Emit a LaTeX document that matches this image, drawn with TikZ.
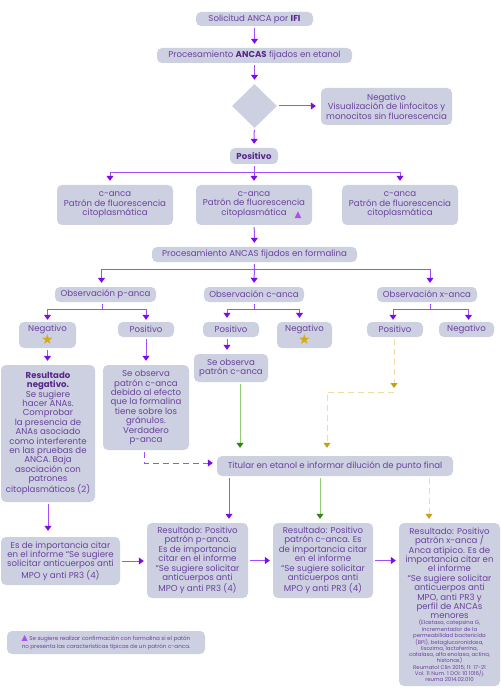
\documentclass[tikz,border=0pt]{standalone}
\usepackage{fontspec}
\setmainfont{Poppins}
\newfontfamily\sym{DejaVu Sans}
\usetikzlibrary{arrows.meta,shapes.geometric}
\definecolor{boxc}{RGB}{205,208,224}
\definecolor{txtc}{RGB}{106,66,160}
\definecolor{boldc}{RGB}{88,40,140}
\definecolor{lnp}{RGB}{158,78,255}
\definecolor{tipp}{RGB}{125,10,235}
\definecolor{lng}{RGB}{150,205,120}
\definecolor{tipg}{RGB}{50,130,20}
\definecolor{lny}{RGB}{238,220,160}
\definecolor{tipy}{RGB}{200,160,20}
\definecolor{starc}{RGB}{215,170,20}
\definecolor{trc}{RGB}{170,80,240}
\newcommand{\bx}[1]{{\bfseries\color{boldc}#1}}
\newcommand{\stargl}{\raisebox{-1pt}{\sym\color{starc}\fontsize{14}{14}\selectfont ★}}
\begin{document}
\begin{tikzpicture}[x=1pt,y=-1pt,
  box/.style={rectangle, rounded corners=5pt, fill=boxc, text=txtc, align=center, inner sep=0pt, font=\fontsize{8.6}{9.4}\selectfont},
  arr/.style={draw=lnp, line width=1pt, shorten <=2pt, shorten >=4pt, -{Triangle[width=7pt,length=5pt,color=tipp]}},
  pdash/.style={arr, dash pattern=on 6pt off 4pt},
  garr/.style={draw=lng, line width=1pt, shorten <=2pt, shorten >=4pt, -{Triangle[width=7pt,length=5pt,color=tipg]}},
  ydash/.style={draw=lny, line width=1pt, dash pattern=on 6pt off 4pt, shorten <=2pt, shorten >=4pt, -{Triangle[width=7pt,length=5pt,color=tipy]}}
]
\fill[white] (0,0) rectangle (500,692);
\useasboundingbox (0,0) rectangle (500,692);

\node[box, minimum width=117pt, minimum height=14pt] (sol) at (254.5,19) {Solicitud ANCA por \bx{IFI}};
\node[box, minimum width=195pt, minimum height=15pt] (proc) at (254.5,55.5) {Procesamiento \bx{ANCAS} fijados en etanol};
\node[diamond, fill=boxc, minimum width=45pt, minimum height=44pt, inner sep=0pt] (dia) at (254.5,106) {};
\node[box, minimum width=131pt, minimum height=37pt] (neg) at (386.5,106.5) {Negativo\\Visualización de linfocitos y\\monocitos sin fluorescencia};
\node[box, minimum width=48pt, minimum height=16pt] (pos) at (254,156) {\bx{Positivo}};

\node[box, minimum width=116pt, minimum height=40pt] (c1) at (115,205) {c-anca\\Patrón de fluorescencia\\citoplasmática};
\node[box, minimum width=116pt, minimum height=40pt] (c2) at (254,205) {c-anca\\Patrón de fluorescencia\\citoplasmática\rlap{\hspace{8pt}\raisebox{-2pt}{\sym\color{trc}\fontsize{9}{9}\selectfont ▲}}};
\node[box, minimum width=116pt, minimum height=40pt] (c3) at (400,205) {c-anca\\Patrón de fluorescencia\\citoplasmática};

\node[box, minimum width=205pt, minimum height=15pt] (form) at (254.5,254.5) {Procesamiento ANCAS fijados en formalina};

\node[box, minimum width=101pt, minimum height=15pt] (obsp) at (105.5,294.5) {Observación p-anca};
\node[box, minimum width=100pt, minimum height=15pt] (obsc) at (254,294.5) {Observación c-anca};
\node[box, minimum width=100pt, minimum height=15pt] (obsx) at (427,294.5) {Observación x-anca};

\node[box, minimum width=57pt, minimum height=26pt] (negp) at (47.5,335) {Negativo\\\stargl};
\node[box, minimum width=56pt, minimum height=15pt] (posp) at (146,329.5) {Positivo};
\node[box, minimum width=56pt, minimum height=15pt] (posc) at (231,329.5) {Positivo};
\node[box, minimum width=55pt, minimum height=26pt] (negc) at (304.5,335) {Negativo\\\stargl};
\node[box, minimum width=56pt, minimum height=15pt] (posx) at (395,329.5) {Positivo};
\node[box, minimum width=55pt, minimum height=15pt] (negx) at (466.5,329.5) {Negativo};

\node[box, minimum width=94pt, minimum height=137pt] (resneg) at (48,433.5) {\bx{Resultado}\\\bx{negativo.}\\Se sugiere\\hacer ANAs.\\Comprobar\\la presencia de\\ANAs asociado\\como interferente\\en las pruebas de\\ANCA. Baja\\asociación con\\patrones\\citoplasmáticos (2)};
\node[box, minimum width=86pt, minimum height=85pt] (seobs) at (146,407.5) {Se observa\\patrón c-anca\\debido al efecto\\que la formalina\\tiene sobre los\\gránulos.\\Verdadero\\p-anca};
\node[box, minimum width=74pt, minimum height=28pt] (seobsc) at (231,368) {Se observa\\patrón c-anca};

\node[box, minimum width=236pt, minimum height=20pt] (tit) at (335,466) {Titular en etanol e informar dilución de punto final};

\node[box, minimum width=119pt, minimum height=48pt] (imp) at (60.5,561) {Es de importancia citar\\en el informe “Se sugiere\\solicitar anticuerpos anti\\MPO y anti PR3 (4)};
\node[box, minimum width=101pt, minimum height=75pt] (resp) at (197.5,560.5) {Resultado: Positivo\\patrón p-anca.\\Es de importancia\\citar en el informe\\“Se sugiere solicitar\\anticuerpos anti\\MPO y anti PR3 (4)};
\node[box, minimum width=100pt, minimum height=75pt] (resc) at (323,560.5) {Resultado: Positivo\\patrón c-anca. Es\\de importancia citar\\en el informe\\“Se sugiere solicitar\\anticuerpos anti\\MPO y anti PR3 (4)};
\node[box, minimum width=101pt, minimum height=163pt] (resx) at (449.5,604.5) {Resultado: Positivo\\patrón x-anca /\\Anca atípico. Es de\\importancia citar en\\el informe\\“Se sugiere solicitar\\anticuerpos anti\\MPO, anti PR3 y\\perfil de ANCAs\\menores\\\parbox{100pt}{\centering\fontsize{5.4}{6.1}\selectfont (Elastasa, catepsina G,\\incrementador de la\\permeabilidad bactericida\\(BPI), betaglucoronidasa,\\lisozima, lactoferrina,\\catalasa, alfa enolasa, actina,\\histonas)\\Reumatol Clin 2015; 11: 17-21\\Vol. 11 Num. 1 DOI: 10 1016/j.\\reuma 2014.02.010}};

\node[box, minimum width=198pt, minimum height=23pt, font=\fontsize{5.6}{7.4}\selectfont] (foot) at (106,642.5) {{\sym\color{trc}\fontsize{8}{8}\selectfont ▲} Se sugiere realizar confirmación con formalina si el patón\\no presenta las características típicas de un patrón c-anca.};

% connectors
\draw[arr] (sol) -- (proc);
\draw[arr] (proc) -- (dia);
\draw[arr, shorten >=5pt] (dia) -- (neg.west |- dia.east);
\draw[arr] (dia) -- (pos);
\draw[arr] (pos.south) -- ++(0,8) -| ([xshift=-5pt]c1.north);
\draw[arr] (pos.south) -- (c2.north);
\draw[arr] (pos.south) -- ++(0,8) -| (c3.north);
\draw[arr] (c2) -- (form);
\draw[arr] (form.south) -- ++(0,7) -| ([xshift=-4pt]obsp.north);
\draw[arr] (form.south) -- (obsc.north);
\draw[arr] (form.south) -- ++(0,7) -| ([xshift=3pt]obsx.north);
\draw[arr, shorten >=2pt] ([xshift=-3pt]obsp.south) -- ++(0,7) -| (negp.north);
\draw[arr, shorten >=2pt] ([xshift=-3pt]obsp.south) -- ++(0,7) -| (posp.north);
\draw[arr] (obsc.south) -- ++(0,7) -| ([xshift=-4pt]posc.north);
\draw[arr] (obsc.south) -- ++(0,7) -| ([xshift=-5pt]negc.north);
\draw[arr, shorten >=2pt] ([xshift=3pt]obsx.south) -- ++(0,7) -| ([xshift=-2pt]posx.north);
\draw[arr, shorten >=2pt] ([xshift=3pt]obsx.south) -- ++(0,7) -| ([xshift=2pt]negx.north);
\draw[arr] (negp.south) -- (negp.south |- resneg.north);
\draw[arr] (posp.south) -- (posp.south |- seobs.north);
\draw[arr] ([xshift=-4pt]posc.south) -- ([xshift=-4pt]posc.south |- seobsc.north);
\draw[garr, shorten >=8pt] ([xshift=9pt]seobsc.south) -- ([xshift=9pt]seobsc.south |- tit.north);
\draw[pdash] ([xshift=-2pt]seobs.south) |- ([yshift=3pt]tit.west);
\coordinate (ya) at (394,392);
\draw[ydash] ([xshift=-1pt]posx.south) -- (ya);
\draw[ydash, shorten <=0pt, shorten >=8pt] (ya) -| ([xshift=-8pt]tit.north);
\draw[arr] ([xshift=-106pt]tit.south) -- ([xshift=-106pt]tit.south |- resp.north);
\draw[garr] ([xshift=-15pt]tit.south) -- ([xshift=-15pt]tit.south |- resc.north);
\draw[ydash] ([xshift=94pt]tit.south) -- ([xshift=94pt]tit.south |- resx.north);
\draw[arr, shorten >=6pt] (resneg.south) -- (resneg.south |- imp.north);
\draw[arr, shorten >=3pt] (imp.east) -- (imp.east -| resp.west);
\draw[arr, shorten >=3pt] (resp.east) -- (resp.east -| resc.west);
\draw[arr, shorten >=3pt] (resc.east) -- (resc.east -| resx.west);
\end{tikzpicture}
\end{document}
